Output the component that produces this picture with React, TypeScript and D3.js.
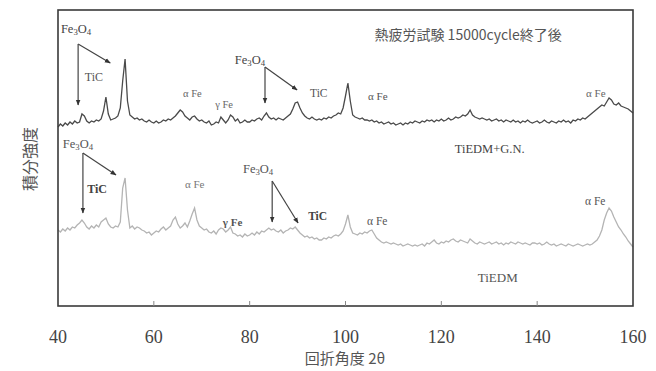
import * as d3 from 'd3';

// XRD patterns, 2θ from 40° to 160° in 0.5° steps (arbitrary intensity units)
const twoThetaStart = 40;
const twoThetaStep = 0.5;
const xTicks = [40, 60, 80, 100, 120, 140, 160];

const intensityGN = [
    179, 182, 180, 183, 181, 184, 182, 185, 183, 184,
    192, 190, 185, 183, 185, 184, 186, 185, 187, 195,
    209, 192, 186, 187, 188, 190, 198, 225, 247, 205,
    191, 189, 187, 188, 186, 187, 185, 184, 186, 184,
    183, 185, 183, 184, 186, 185, 187, 186, 188, 190,
    193, 196, 194, 190, 188, 186, 189, 190, 187, 185,
    186, 184, 183, 185, 181, 182, 184, 183, 189, 186,
    183, 186, 191, 189, 185, 187, 183, 184, 186, 184,
    184, 186, 185, 187, 188, 186, 190, 193, 189, 187,
    188, 186, 188, 187, 186, 188, 190, 192, 197, 203,
    204, 198, 193, 190, 188, 187, 189, 187, 186, 187,
    186, 188, 187, 189, 188, 190, 191, 193, 192, 198,
    210, 223, 205, 191, 189, 188, 187, 188, 186, 186,
    185, 186, 184, 185, 183, 184, 182, 183, 184, 182,
    183, 181, 182, 183, 181, 183, 182, 184, 183, 185,
    184, 183, 185, 184, 186, 185, 186, 184, 186, 185,
    187, 185, 186, 188, 186, 187, 189, 188, 189, 191,
    190, 192, 196, 191, 189, 188, 187, 188, 187, 186,
    187, 185, 186, 187, 185, 186, 184, 186, 185, 184,
    186, 184, 185, 183, 185, 184, 186, 184, 183, 184,
    185, 183, 184, 186, 184, 183, 185, 184, 183, 185,
    184, 186, 184, 185, 183, 186, 185, 187, 186, 188,
    187, 189, 191, 193, 195, 197, 199, 201, 200, 204,
    208, 206, 202, 201, 203, 200, 199, 198, 197, 195,
    193,
];

const intensityEDM = [
    76, 74, 77, 75, 78, 76, 79, 78, 81, 83,
    86, 83, 79, 77, 80, 78, 81, 79, 84, 86,
    88, 82, 79, 78, 80, 79, 84, 118, 128, 96,
    78, 80, 77, 79, 78, 76, 75, 73, 74, 71,
    73, 75, 74, 77, 79, 76, 78, 80, 86, 89,
    82, 78, 80, 83, 79, 85, 92, 98, 86, 80,
    78, 76, 77, 74, 73, 75, 72, 76, 78, 77,
    74, 76, 79, 73, 72, 70, 71, 69, 72, 70,
    71, 73, 71, 74, 72, 75, 74, 76, 78, 76,
    77, 75, 74, 76, 73, 75, 76, 78, 77, 79,
    76, 73, 71, 69, 70, 68, 69, 67, 68, 66,
    66, 68, 67, 69, 68, 70, 71, 70, 72, 75,
    82, 91, 79, 73, 72, 71, 73, 72, 74, 73,
    75, 76, 72, 68, 66, 64, 63, 64, 63, 62,
    63, 62, 61, 62, 60, 61, 62, 61, 60, 61,
    60, 61, 62, 60, 63, 62, 64, 66, 63, 62,
    64, 63, 65, 64, 66, 67, 65, 64, 66, 65,
    64, 63, 67, 65, 63, 62, 64, 63, 62, 63,
    64, 62, 63, 64, 62, 63, 61, 63, 62, 64,
    63, 62, 64, 63, 62, 63, 62, 61, 63, 63,
    62, 63, 61, 62, 64, 62, 61, 62, 60, 61,
    62, 61, 60, 62, 61, 60, 61, 62, 61, 60,
    61, 62, 61, 62, 64, 66, 70, 76, 86, 93,
    98, 95, 89, 84, 79, 76, 72, 69, 65, 62,
    59,
];

// peak labels, placed at (2θ, intensity)
type Label = { text: string; x: number; y: number; size: number; color: string; weight?: string };
const peakLabels: Label[] = [
    { text: 'Fe3O4', x: 40.6, y: 273, size: 12.5, color: '#444' },
    { text: 'TiC', x: 45.6, y: 225, size: 12, color: '#555' },
    { text: 'α Fe', x: 66.1, y: 209, size: 10.5, color: '#666' },
    { text: 'γ Fe', x: 72.8, y: 198, size: 10.5, color: '#666' },
    { text: 'Fe3O4', x: 76.9, y: 242, size: 12.5, color: '#444' },
    { text: 'TiC', x: 92.6, y: 209, size: 11.5, color: '#555' },
    { text: 'α Fe', x: 104.7, y: 206, size: 11, color: '#555' },
    { text: 'α Fe', x: 150.2, y: 209, size: 11, color: '#666' },
    { text: 'TiEDM+G.N.', x: 122.8, y: 153, size: 12.5, color: '#444' },
    { text: 'Fe3O4', x: 41.0, y: 158, size: 12.5, color: '#555' },
    { text: 'TiC', x: 46.1, y: 113, size: 12, color: '#444', weight: 'bold' },
    { text: 'α Fe', x: 66.5, y: 118, size: 11, color: '#777' },
    { text: 'γ Fe', x: 74.4, y: 80, size: 11, color: '#555', weight: 'bold' },
    { text: 'Fe3O4', x: 78.6, y: 133, size: 12.5, color: '#555' },
    { text: 'TiC', x: 92.2, y: 86, size: 11.5, color: '#444', weight: 'bold' },
    { text: 'α Fe', x: 104.5, y: 81, size: 11.5, color: '#555' },
    { text: 'α Fe', x: 150.0, y: 101, size: 11.5, color: '#555' },
    { text: 'TiEDM', x: 127.6, y: 24, size: 13, color: '#555' },
];

// arrows: from (2θ, I) to (2θ, I)
const arrows = [
    [44.2, 262, 44.2, 201],
    [44.2, 262, 50.9, 243],
    [83.2, 239, 83.2, 203],
    [83.2, 239, 89.9, 216],
    [45.2, 153, 45.2, 93],
    [45.2, 153, 52.1, 131],
    [84.7, 125, 84.7, 84],
    [84.7, 125, 90.1, 83],
];

const title = '熱疲労試験 15000cycle終了後';
const xTitle = '回折角度 2θ';
const yTitle = '積分強度';

const W = 656;
const H = 371;
const serif = '"Liberation Serif", "DejaVu Serif", serif';
const cjk = '"Noto Sans CJK JP", sans-serif';

function LabelText({ d, x, y }: { d: Label; x: d3.ScaleLinear<number, number>; y: d3.ScaleLinear<number, number> }) {
    const common = { x: x(d.x), y: y(d.y), fontSize: d.size, fill: d.color, fontFamily: serif, fontWeight: d.weight ?? 'normal' };
    if (d.text === 'Fe3O4') {
        return (
            <text {...common}>
                Fe<tspan fontSize={d.size * 0.7} dy={2}>3</tspan>
                <tspan dy={-2}>O</tspan>
                <tspan fontSize={d.size * 0.7} dy={2}>4</tspan>
            </text>
        );
    }
    return <text {...common}>{d.text}</text>;
}

export default function App() {
    const x = d3.scaleLinear().domain([40, 160]).range([58, 633]);
    const y = d3.scaleLinear().domain([0, 296]).range([306, 10]);

    const line = d3.line<number>()
        .x((_, i) => x(twoThetaStart + i * twoThetaStep))
        .y(d => y(d));

    const [x0, x1] = x.range();
    const [y0, y1] = y.range();

    return (
        <svg width={W} height={H} style={{ position: 'absolute', left: 0, top: 0, background: '#fff' }}>
            <defs>
                <marker id="ah" viewBox="0 0 10 10" refX="9" refY="5" markerWidth="5" markerHeight="5" orient="auto-start-reverse">
                    <path d="M0,1 L10,5 L0,9 z" fill="#333" />
                </marker>
            </defs>

            {/* patterns */}
            <path d={line(intensityEDM) ?? ''} fill="none" stroke="#b4b4b4" strokeWidth={1.3} />
            <path d={line(intensityGN) ?? ''} fill="none" stroke="#4a4a4a" strokeWidth={1.3} />

            {/* frame */}
            <rect x={x0} y={y1} width={x1 - x0} height={y0 - y1} fill="none" stroke="#3a3a3a" strokeWidth={1.6} />

            {/* ticks */}
            {xTicks.map(t => (
                <g key={t}>
                    {t > 40 && t < 160 && <line x1={x(t)} x2={x(t)} y1={y0} y2={y0 - 5} stroke="#888" strokeWidth={1} />}
                    <text x={x(t)} y={y0 + 37} textAnchor="middle" fontSize={18} fill="#444" fontFamily={serif}>{t}</text>
                </g>
            ))}

            {/* arrows */}
            {arrows.map((a, i) => (
                <line key={i} x1={x(a[0])} y1={y(a[1])} x2={x(a[2])} y2={y(a[3])}
                    stroke="#444" strokeWidth={1.2} markerEnd="url(#ah)" />
            ))}

            {peakLabels.map((d, i) => <LabelText key={i} d={d} x={x} y={y} />)}

            <text x={x(125.6)} y={y(266)} textAnchor="middle" fontSize={14} fill="#555" fontFamily={cjk}>{title}</text>

            <text x={345} y={364} textAnchor="middle" fontSize={15} fill="#555" fontFamily={cjk}>{xTitle}</text>
            <text transform={`translate(36,159) rotate(-90)`} textAnchor="middle" fontSize={16} fill="#555" fontFamily={cjk}>{yTitle}</text>
        </svg>
    );
}
